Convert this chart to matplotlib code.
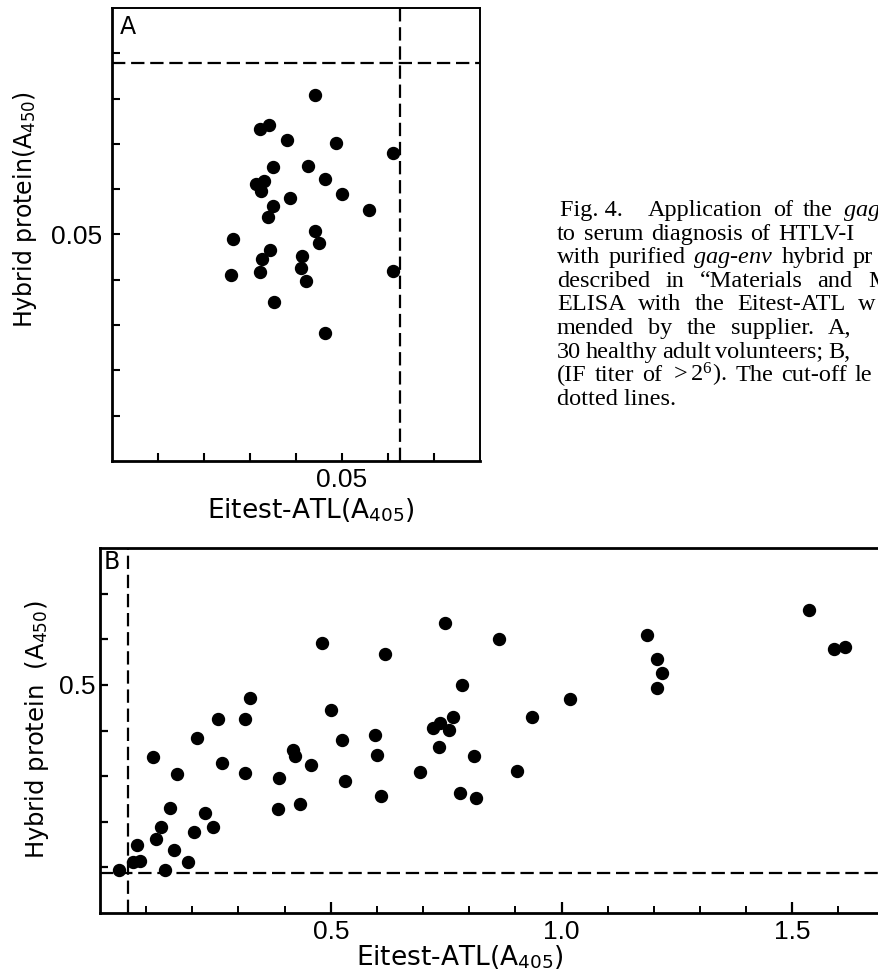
import matplotlib
matplotlib.use('Agg')
import matplotlib.pyplot as plt

plt.rcParams['mathtext.fontset'] = 'custom'
plt.rcParams['mathtext.rm'] = 'Liberation Serif'
plt.rcParams['mathtext.it'] = 'Liberation Serif:italic'
plt.rcParams['mathtext.sf'] = 'DejaVu Sans'

# ---------------- data ----------------
# Panel A: 30 healthy adult volunteers
a_eitest = [0.0442, 0.0321, 0.0341, 0.0381, 0.0487, 0.0611, 0.0349, 0.0426, 0.0312, 0.0330,
            0.0323, 0.0462, 0.0500, 0.0386, 0.0349, 0.0558, 0.0339, 0.0441, 0.0264, 0.0450,
            0.0344, 0.0327, 0.0412, 0.0410, 0.0259, 0.0321, 0.0422, 0.0611, 0.0352, 0.0462]
a_hybrid = [0.0809, 0.0732, 0.0742, 0.0709, 0.0702, 0.0680, 0.0650, 0.0652, 0.0612, 0.0619,
            0.0597, 0.0623, 0.0589, 0.0581, 0.0562, 0.0555, 0.0538, 0.0507, 0.0491, 0.0482,
            0.0466, 0.0447, 0.0453, 0.0427, 0.0411, 0.0417, 0.0397, 0.0419, 0.0350, 0.0282]
a_cut_x = 0.0627
a_cut_y = 0.0878
a_xticks = [0.01, 0.02, 0.03, 0.04, 0.05, 0.06, 0.07]
a_xticklabels = ['', '', '', '', '0.05', '', '']
a_yticks = [0.01, 0.02, 0.03, 0.04, 0.05, 0.06, 0.07, 0.08, 0.09]
a_yticklabels = ['', '', '', '', '0.05', '', '', '', '']

# Panel B: HTLV-I positive sera
b_eitest = [0.748, 0.481, 0.618, 0.324, 0.501, 0.256, 0.315, 0.210, 0.524, 0.595,
            0.722, 0.737, 0.734, 0.114, 0.419, 0.423, 0.601, 0.265, 0.458, 0.166,
            0.314, 0.388, 0.693, 0.530, 0.609, 0.386, 0.433, 0.152, 0.227, 0.132,
            0.244, 0.204, 0.122, 0.080, 0.160, 0.071, 0.087, 0.191, 0.041, 0.140,
            0.864, 0.784, 0.764, 0.757, 1.018, 0.936, 0.811, 0.904, 0.781, 0.815,
            1.185, 1.208, 1.218, 1.208, 1.536, 1.591, 1.614]
b_hybrid = [0.635, 0.591, 0.567, 0.471, 0.444, 0.425, 0.425, 0.383, 0.379, 0.391,
            0.405, 0.416, 0.363, 0.342, 0.358, 0.344, 0.346, 0.328, 0.325, 0.305,
            0.307, 0.295, 0.308, 0.289, 0.256, 0.228, 0.239, 0.231, 0.219, 0.188,
            0.188, 0.178, 0.162, 0.150, 0.137, 0.112, 0.115, 0.112, 0.095, 0.095,
            0.600, 0.499, 0.430, 0.401, 0.470, 0.429, 0.345, 0.311, 0.263, 0.251,
            0.609, 0.557, 0.527, 0.493, 0.665, 0.578, 0.583]
b_cut_x = 0.06
b_cut_y = 0.087
b_xmajor = [0.5, 1.0, 1.5]
b_xmajorlabels = ['0.5', '1.0', '1.5']
b_xminor = [0.1, 0.2, 0.3, 0.4, 0.6, 0.7, 0.8, 0.9, 1.1, 1.2, 1.3, 1.4, 1.6, 1.7]
b_yticks = [0.1, 0.2, 0.3, 0.4, 0.5, 0.6, 0.7]
b_yticklabels = ['', '', '', '', '0.5', '', '']

# Caption (justified text, clipped by the right edge of the page)
caption_prefix = 'Fig. 4.'
caption_words = [
    ['Application', 'of', 'the', r'$\mathit{gag}$'],
    ['to', 'serum', 'diagnosis', 'of', 'HTLV-I'],
    ['with', 'purified', r'$\mathit{gag}$-$\mathit{env}$', 'hybrid', 'pr'],
    ['described', 'in', '\u201cMaterials', 'and', 'M'],
    ['ELISA', 'with', 'the', 'Eitest-ATL', 'w'],
    ['mended', 'by', 'the', 'supplier.', 'A,'],
    ['30', 'healthy', 'adult', 'volunteers;', 'B,'],
    ['(IF', 'titer', 'of', r'$>2^{6}$).', 'The', 'cut-off', 'le'],
    ['dotted lines.'],
]
# layout: x (px) of first word start and of last word start on each line
caption_span = [
    (648, 843), (557, 778), (557, 853), (557, 868), (557, 858),
    (557, 828), (557, 828), (557, 855), (557, None),
]

# ---------------- figure ----------------
W, H = 879, 980
fig = plt.figure(figsize=(W / 100, H / 100), dpi=100)


def rect(l, t, r, b):
    return [l / W, 1 - b / H, (r - l) / W, (b - t) / H]


tick_font = ['Liberation Sans', 'DejaVu Sans']
label_font = ['DejaVu Sans']
dash = (0, (6, 2.6))
TICK_FS = 19

# Panel A
axA = fig.add_axes(rect(112, 8, 480, 461))
axA.plot(a_eitest, a_hybrid, 'o', color='black', ms=8.6, mec='black')
axA.axvline(a_cut_x, color='black', lw=1.6, ls=dash)
axA.axhline(a_cut_y, color='black', lw=1.6, ls=dash)
axA.set_xlim(0, 0.08)
axA.set_ylim(0, 0.1)
axA.set_xticks(a_xticks)
axA.set_xticklabels(a_xticklabels, fontfamily=tick_font, fontsize=TICK_FS)
axA.set_yticks(a_yticks)
axA.set_yticklabels(a_yticklabels, fontfamily=tick_font, fontsize=TICK_FS)
axA.tick_params(direction='in', length=6, width=1.5, pad=5)
axA.tick_params(axis='y', pad=7)
for s in ['left', 'bottom']:
    axA.spines[s].set_linewidth(2.0)
for s in ['top', 'right']:
    axA.spines[s].set_linewidth(1.4)
axA.text(0.02, 0.985, 'A', transform=axA.transAxes, ha='left', va='top',
         fontsize=17, fontfamily=label_font)

# Panel B
axB = fig.add_axes(rect(100, 548, 100 + 1.8 * 461.5, 913))
axB.plot(b_eitest, b_hybrid, 'o', color='black', ms=8.6, mec='black')
axB.axvline(b_cut_x, color='black', lw=1.6, ls=dash)
axB.axhline(b_cut_y, color='black', lw=1.6, ls=dash)
axB.set_xlim(0, 1.8)
axB.set_ylim(0, 0.8)
axB.set_xticks(b_xmajor)
axB.set_xticklabels(b_xmajorlabels, fontfamily=tick_font, fontsize=TICK_FS)
axB.set_xticks(b_xminor, minor=True)
axB.set_yticks(b_yticks)
axB.set_yticklabels(b_yticklabels, fontfamily=tick_font, fontsize=TICK_FS)
axB.tick_params(which='major', direction='in', length=8, width=1.6, pad=5)
axB.tick_params(which='minor', direction='in', length=5, width=1.4)
axB.tick_params(axis='y', which='major', length=6, pad=3)
for s in ['left', 'bottom', 'top']:
    axB.spines[s].set_linewidth(2.0)
axB.text(0.004, 0.995, 'B', transform=axB.transAxes, ha='left', va='top',
         fontsize=17, fontfamily=label_font)

# Axis labels
fig.text(311 / W, 1 - 510 / H, r'Eitest-ATL(A$_{\mathsf{405}}$)', ha='center', va='center',
         fontsize=19, fontfamily=label_font)
fig.text(25 / W, 1 - 210 / H, r'Hybrid protein(A$_{\mathsf{450}}$)', ha='center', va='center',
         rotation=90, fontsize=17, fontfamily=label_font)
fig.text(460 / W, 1 - 957 / H, r'Eitest-ATL(A$_{\mathsf{405}}$)', ha='center', va='center',
         fontsize=19, fontfamily=label_font)
fig.text(37 / W, 1 - 730 / H, r'Hybrid protein  (A$_{\mathsf{450}}$)', ha='center', va='center',
         rotation=90, fontsize=17.5, fontfamily=label_font)

# Caption, justified word by word
CAP_FS = 17.5
renderer = fig.canvas.get_renderer()
fig.text(560 / W, 1 - 216 / H, caption_prefix, ha='left', va='baseline',
         fontsize=CAP_FS, fontfamily='Liberation Serif')
for i, (words, (x0, xlast)) in enumerate(zip(caption_words, caption_span)):
    y = 216 + i * 23.6
    texts = [fig.text(0, 1 - y / H, w, ha='left', va='baseline',
                      fontsize=CAP_FS, fontfamily='Liberation Serif') for w in words]
    widths = [t.get_window_extent(renderer).width for t in texts]
    if xlast is None or len(words) == 1:
        gap = 0
    else:
        gap = (xlast - x0 - sum(widths[:-1])) / (len(words) - 1)
    x = x0
    for t, wd in zip(texts, widths):
        t.set_x(x / W)
        x += wd + gap

fig.savefig('out.png', dpi=100)
